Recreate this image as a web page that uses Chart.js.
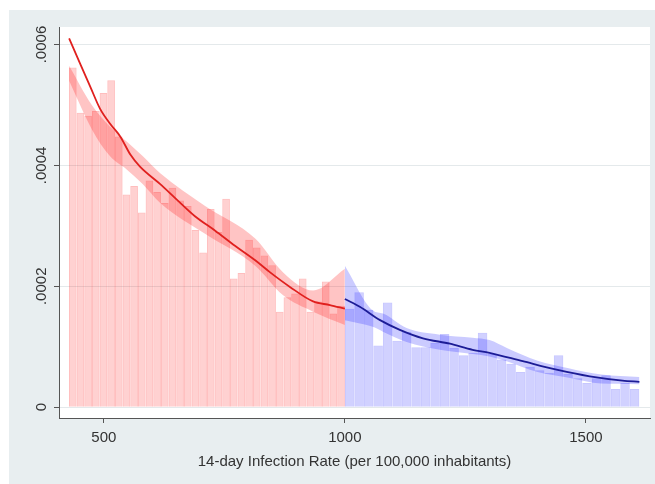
<!DOCTYPE html>
<html>
<head>
<meta charset="utf-8">
<script src="https://cdn.jsdelivr.net/npm/chart.js@4"></script>
<style>
  html, body { margin: 0; padding: 0; background: #fff; }
  #wrap { position: absolute; left: 9px; top: 10px; width: 646px; height: 474px; background: #e8eef0; }
</style>
</head>
<body>
<div id="wrap"><canvas id="rdd-chart"></canvas></div>
<script>
// histogram bins below the 1000 cut-off (bin mid points, density)
const redBinMid = [435.6, 451.5, 467.4, 483.3, 499.2, 515.1, 531.0, 546.9, 562.8, 578.7,
  594.6, 610.5, 626.4, 642.3, 658.2, 674.1, 690.0, 705.9, 721.8, 737.7,
  753.6, 769.5, 785.4, 801.3, 817.2, 833.1, 849.0, 864.9, 880.8, 896.7,
  912.6, 928.5, 944.4, 960.3, 976.2, 992.1];
const redDensity = [0.000562, 0.000487, 0.000482, 0.000490, 0.000520, 0.000541, 0.000448, 0.000352, 0.000366, 0.000322,
  0.000375, 0.000356, 0.000338, 0.000363, 0.000342, 0.000333, 0.000293, 0.000256, 0.000328, 0.000290,
  0.000345, 0.000213, 0.000222, 0.000277, 0.000264, 0.000251, 0.000235, 0.000158, 0.000182, 0.000188,
  0.000213, 0.000158, 0.000175, 0.000208, 0.000155, 0.000168];

// histogram bins above the cut-off
const blueBinMid = [1009.9, 1029.6, 1049.3, 1069.0, 1088.7, 1108.4, 1128.1, 1147.8, 1167.5, 1187.2,
  1206.9, 1226.6, 1246.3, 1266.0, 1285.7, 1305.4, 1325.1, 1344.8, 1364.5, 1384.2,
  1403.9, 1423.6, 1443.3, 1463.0, 1482.7, 1502.4, 1522.1, 1541.8, 1561.5, 1581.2, 1600.9];
const blueDensity = [0.000163, 0.000190, 0.000161, 0.000102, 0.000173, 0.000110, 0.000125, 0.000099, 0.000099, 0.000106,
  0.000121, 0.000098, 0.000086, 0.000090, 0.000123, 0.000088, 0.000079, 0.000072, 0.000058, 0.000067,
  0.000061, 0.000057, 0.000086, 0.000055, 0.000048, 0.000040, 0.000048, 0.000053, 0.000030, 0.000040, 0.000030];

// local polynomial fits
const redFitX = [428, 451, 472, 492, 513, 534, 555, 575, 617, 648, 689, 731, 772, 814, 845, 886, 934, 969, 1000];
const redFitY = [0.000610, 0.000568, 0.000530, 0.000494, 0.000469, 0.000448, 0.000418, 0.000398, 0.000369, 0.000346,
  0.000316, 0.000292, 0.000267, 0.000243, 0.000223, 0.000199, 0.000175, 0.000169, 0.000163];
const blueFitX = [1000, 1031, 1073, 1114, 1162, 1218, 1265, 1300, 1369, 1439, 1508, 1576, 1611];
const blueFitY = [0.000179, 0.000166, 0.000144, 0.000128, 0.000114, 0.000105, 0.000095, 0.000090, 0.000076,
  0.000062, 0.000051, 0.000044, 0.000042];

// confidence bands
const redBandX = [428, 475, 513, 548, 581, 617, 710, 814, 872, 934, 1000];
const redBandLo = [0.000540, 0.000460, 0.000415, 0.000393, 0.000369, 0.000338, 0.000287, 0.000234, 0.000185, 0.000158, 0.000136];
const redBandHi = [0.000565, 0.000500, 0.000464, 0.000439, 0.000415, 0.000387, 0.000333, 0.000279, 0.000223, 0.000193, 0.000229];
const blueBandX = [1000, 1058, 1079, 1128, 1197, 1265, 1300, 1336, 1400, 1462, 1532, 1611];
const blueBandLo = [0.000144, 0.000133, 0.000125, 0.000108, 0.000095, 0.000088, 0.000084, 0.000076, 0.000058, 0.000049, 0.000039, 0.000038];
const blueBandHi = [0.000234, 0.000160, 0.000155, 0.000131, 0.000120, 0.000115, 0.000111, 0.000098, 0.000077, 0.000065, 0.000054, 0.000050];

const xTicks = [500, 1000, 1500];
const yTicks = [0, 0.0002, 0.0004, 0.0006];
const yTickLabels = ["0", ".0002", ".0004", ".0006"];

function toPoints(xs, ys) {
  return xs.map(function (x, i) { return { x: x, y: ys[i] }; });
}

Chart.defaults.font.family = '"Liberation Sans", Arial, sans-serif';
Chart.defaults.color = "#333";

const plotBackground = {
  id: "plotBackground",
  beforeDraw: function (chart) {
    const a = chart.chartArea;
    chart.ctx.save();
    chart.ctx.fillStyle = "#ffffff";
    chart.ctx.fillRect(a.left, a.top, a.right - a.left, a.bottom - a.top);
    chart.ctx.restore();
  },
};

const lineStyle = { type: "line", pointRadius: 0, borderWidth: 1.8, fill: false, cubicInterpolationMode: "monotone", order: 1 };
const bandEdge = { type: "line", pointRadius: 0, borderWidth: 0, cubicInterpolationMode: "monotone", order: 2 };
const barStyle = { barPercentage: 1, categoryPercentage: 1, grouped: false, borderWidth: 1, inflateAmount: 0, order: 3 };

function setXTicks(axis) {
  axis.ticks = xTicks.map(function (v) { return { value: v }; });
}

new Chart("rdd-chart", {
  type: "bar",
  data: {
    datasets: [
      Object.assign({ data: toPoints(redFitX, redFitY), borderColor: "#e0201e" }, lineStyle),
      Object.assign({ data: toPoints(blueFitX, blueFitY), borderColor: "#1c1c96" }, lineStyle),
      Object.assign({ data: toPoints(redBandX, redBandLo), fill: false }, bandEdge),
      Object.assign({ data: toPoints(redBandX, redBandHi), fill: "-1", backgroundColor: "rgba(255,20,20,0.25)" }, bandEdge),
      Object.assign({ data: toPoints(blueBandX, blueBandLo), fill: false }, bandEdge),
      Object.assign({ data: toPoints(blueBandX, blueBandHi), fill: "-1", backgroundColor: "rgba(20,20,255,0.22)" }, bandEdge),
      Object.assign({
        data: toPoints(redBinMid, redDensity),
        backgroundColor: "rgba(255,0,0,0.18)",
        borderColor: "rgba(255,0,0,0.26)",
      }, barStyle),
      Object.assign({
        data: toPoints(blueBinMid, blueDensity),
        xAxisID: "x2",
        backgroundColor: "rgba(0,0,255,0.18)",
        borderColor: "rgba(40,40,255,0.26)",
      }, barStyle),
    ],
  },
  options: {
    responsive: true,
    maintainAspectRatio: false,
    animation: false,
    layout: { padding: { top: 17, right: 5, bottom: 11, left: 0 } },
    plugins: { legend: { display: false }, tooltip: { enabled: false } },
    scales: {
      x: {
        type: "linear",
        min: 407,
        max: 1633,
        offset: false,
        afterBuildTicks: setXTicks,
        grid: { drawOnChartArea: false, offset: false, tickLength: 5, tickColor: "#555" },
        border: { color: "#555", width: 1 },
        ticks: {
          font: { size: 15 },
          padding: 6,
          maxRotation: 0,
          callback: function (value) { return String(value); },
        },
        title: {
          display: true,
          text: "14-day Infection Rate (per 100,000 inhabitants)",
          font: { size: 15 },
          padding: { top: 0, bottom: 2 },
        },
      },
      x2: {
        type: "linear",
        min: 407,
        max: 1633,
        offset: false,
        display: false,
        afterBuildTicks: setXTicks,
      },
      y: {
        min: -0.0000179,
        max: 0.000629,
        afterBuildTicks: function (axis) {
          axis.ticks = yTicks.map(function (v) { return { value: v }; });
        },
        afterFit: function (axis) { axis.width = 50; },
        grid: { color: "#e4e9eb", tickLength: 5, tickColor: "#555" },
        border: { color: "#555", width: 1 },
        ticks: {
          font: { size: 15 },
          minRotation: 90,
          maxRotation: 90,
          crossAlign: "center",
          padding: -7,
          callback: function (value, index) { return yTickLabels[index]; },
        },
      },
    },
  },
  plugins: [plotBackground],
});
</script>
</body>
</html>
